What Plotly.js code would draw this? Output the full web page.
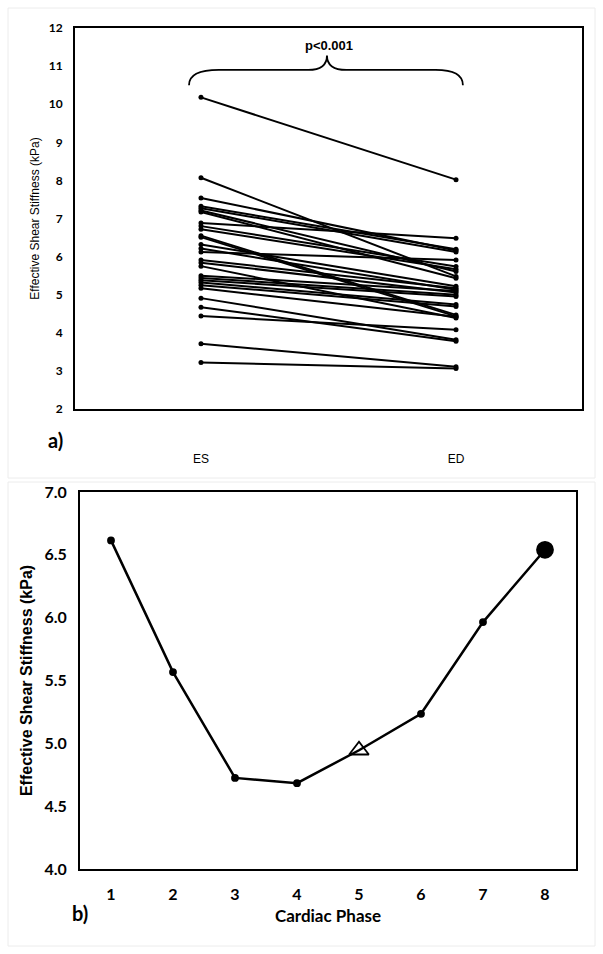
<!DOCTYPE html>
<html>
<head>
<meta charset="utf-8">
<script src="https://cdn.plot.ly/plotly-3.0.1.min.js"></script>
<style>html,body{margin:0;padding:0;background:#fff;}#chart{width:603px;height:954px;}</style>
</head>
<body>
<div id="chart"></div>
<script>
// Panel a: paired ES / ED effective shear stiffness (kPa), one pair per subject
var phaseLabels = ['ES', 'ED'];
var esValues = [10.18, 8.07, 7.54, 7.32, 7.27, 7.21, 7.17, 6.88, 6.80, 6.72, 6.55, 6.51, 6.32, 6.21, 6.12,
                5.91, 5.84, 5.75, 5.50, 5.44, 5.38, 5.32, 5.25, 5.17, 4.91, 4.67, 4.44, 3.71, 3.22];
var edValues = [8.02, 5.48, 6.16, 6.19, 6.12, 5.61, 5.43, 6.48, 5.74, 5.67, 4.47, 4.43, 5.22, 5.13, 5.91,
                5.17, 5.06, 4.39, 5.10, 5.00, 4.95, 4.74, 4.69, 4.42, 3.82, 3.78, 4.08, 3.11, 3.06];
var pText = 'p<0.001';

// Panel b: mean stiffness over cardiac phases
var cardiacPhases = [1, 2, 3, 4, 5, 6, 7, 8];
var meanStiffness = [6.615, 5.567, 4.725, 4.683, 4.945, 5.235, 5.965, 6.54];
var markerSymbols = ['circle', 'circle', 'circle', 'circle', 'triangle-up-open', 'circle', 'circle', 'circle'];
var markerSizes = [6, 6, 6, 6, 17, 6, 6, 16];

var traces = [];
for (var i = 0; i < esValues.length; i++) {
  traces.push({
    x: [0, 1], y: [esValues[i], edValues[i]],
    type: 'scatter', mode: 'lines+markers',
    line: {color: '#000', width: 2},
    marker: {color: '#000', size: 5, opacity: 1},
    xaxis: 'x', yaxis: 'y', showlegend: false, hoverinfo: 'skip'
  });
}
traces.push({
  x: cardiacPhases, y: meanStiffness,
  type: 'scatter', mode: 'lines+markers',
  line: {color: '#000', width: 2.5},
  marker: {color: '#000', opacity: 1, size: markerSizes, symbol: markerSymbols, line: {color: '#000', width: 1.8}},
  xaxis: 'x2', yaxis: 'y2', showlegend: false, hoverinfo: 'skip'
});

var W = 603, H = 954;
var boldFam = 'Lato, "Liberation Sans", sans-serif';
var armFam = '"Liberation Sans", Arial, sans-serif';

var layout = {
  width: W, height: H,
  margin: {l: 0, r: 0, t: 0, b: 0},
  paper_bgcolor: '#fff', plot_bgcolor: '#fff',
  font: {family: armFam, color: '#000'},
  xaxis: {
    domain: [75 / W, 582 / W], range: [-0.494, 1.494],
    tickvals: [0, 1], ticktext: phaseLabels,
    showgrid: false, zeroline: false, ticks: '',
    showline: true, mirror: true, linecolor: '#000', linewidth: 2,
    ticklabelstandoff: 38,
    tickfont: {family: armFam, size: 12, color: '#000'},
    anchor: 'y'
  },
  yaxis: {
    domain: [1 - 409 / H, 1 - 28 / H], range: [2, 12], dtick: 1,
    showgrid: false, zeroline: false, ticks: '',
    showline: true, mirror: true, linecolor: '#000', linewidth: 2,
    tickfont: {family: boldFam, size: 12, color: '#000', weight: 'bold'}, ticklabelstandoff: 8,
    title: {text: 'Effective Shear Stiffness (kPa)', font: {family: armFam, size: 12, color: '#000'}, standoff: 6},
    anchor: 'x'
  },
  xaxis2: {
    domain: [80 / W, 576 / W], range: [0.5, 8.5], dtick: 1,
    showgrid: false, zeroline: false, ticks: '',
    showline: true, mirror: true, linecolor: '#000', linewidth: 2,
    tickfont: {family: boldFam, size: 16, color: '#000', weight: 'bold'},
    ticklabelstandoff: 10,
    title: {text: 'Cardiac Phase', font: {family: boldFam, size: 17, color: '#000', weight: 'bold'}, standoff: 8},
    anchor: 'y2'
  },
  yaxis2: {
    domain: [1 - 869 / H, 1 - 492 / H], range: [4, 7], dtick: 0.5, tickformat: '.1f',
    showgrid: false, zeroline: false, ticks: '',
    showline: true, mirror: true, linecolor: '#000', linewidth: 2,
    tickfont: {family: boldFam, size: 16, color: '#000', weight: 'bold'},
    ticklabelstandoff: 8,
    title: {text: 'Effective Shear Stiffness (kPa)', font: {family: armFam, size: 16, color: '#000', weight: 'bold'}, standoff: 8},
    anchor: 'x2'
  },
  shapes: [
    {type: 'path', xref: 'x', yref: 'y',
     path: 'M -0.047,10.50 Q -0.047,10.90 0.07,10.90 L 0.42,10.90 Q 0.494,10.90 0.494,11.28 Q 0.494,10.90 0.57,10.90 L 0.92,10.90 Q 1.027,10.90 1.027,10.50',
     line: {color: '#000', width: 1.8}},
    {type: 'rect', xref: 'paper', yref: 'paper', x0: 8 / W, x1: 595 / W, y0: 1 - 478 / H, y1: 1 - 8 / H, line: {color: '#ececec', width: 1}},
    {type: 'rect', xref: 'paper', yref: 'paper', x0: 8 / W, x1: 595 / W, y0: 1 - 946 / H, y1: 1 - 482 / H, line: {color: '#ececec', width: 1}}
  ],
  annotations: [
    {text: pText, xref: 'x', yref: 'y', x: 0.5, y: 11.55, showarrow: false,
     font: {family: armFam, size: 13, color: '#000', weight: 'bold'}},
    {text: 'a)', xref: 'paper', yref: 'paper', x: 46 / W, y: 1 - 440 / H, showarrow: false,
     font: {family: boldFam, size: 20, color: '#000', weight: 'bold'}},
    {text: 'b)', xref: 'paper', yref: 'paper', x: 70 / W, y: 1 - 927 / H, showarrow: false,
     font: {family: boldFam, size: 20, color: '#000', weight: 'bold'}}
  ]
};

Plotly.newPlot('chart', traces, layout, {displayModeBar: false, staticPlot: true});
</script>
</body>
</html>
